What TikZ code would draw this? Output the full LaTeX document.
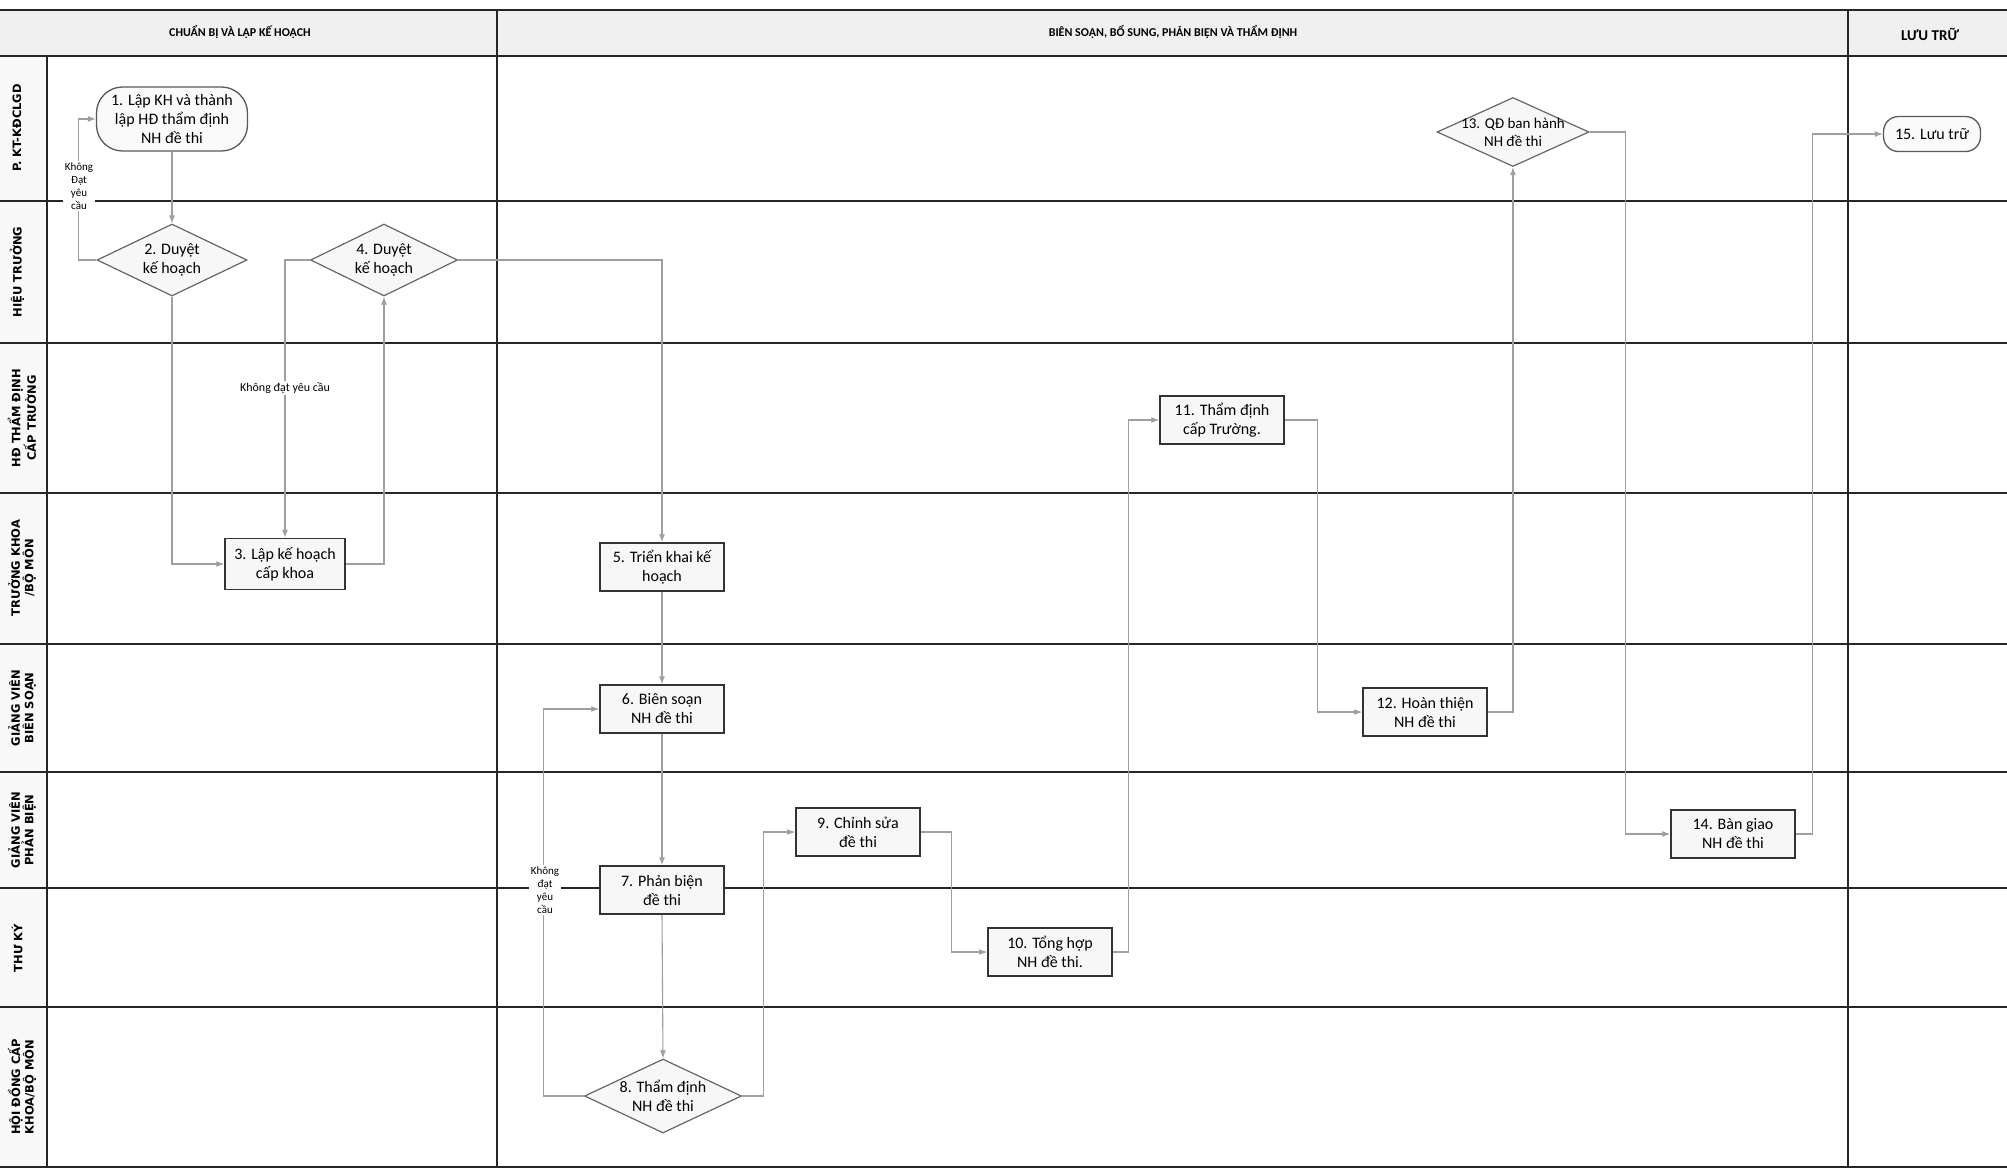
\documentclass[tikz,border=0pt]{standalone}
\usepackage{fontspec}
\setmainfont{Carlito}
\newfontfamily\lanefont{DejaVu Sans}
\usetikzlibrary{shapes.geometric,arrows.meta}
\begin{document}
\begin{tikzpicture}[x=1pt,y=-1pt,
  laneline/.style={draw=black!85, line width=2pt},
  vline/.style={draw=black!85, line width=1.6pt},
  box/.style={draw=black!80, line width=1.5pt, fill=gray!6, minimum width=124pt, minimum height=48pt, inner sep=0pt, align=center, font=\fontsize{16}{19}\selectfont},
  term/.style={draw=black!65, line width=1.3pt, fill=gray!4, inner sep=0pt, align=center, font=\fontsize{16}{19}\selectfont},
  dia/.style={diamond, draw=black!60, line width=1.2pt, fill=gray!6, inner sep=0pt},
  dtext/.style={align=center, inner sep=0pt, font=\fontsize{16}{19}\selectfont},
  conn/.style={draw=gray!75, line width=1.1pt, -{Latex[length=8pt,width=6pt]}},
  lbl/.style={fill=white, inner sep=1.5pt, align=center, font=\fontsize{11}{13}\selectfont},
  lanelbl/.style={rotate=90, align=center, font=\lanefont\bfseries\fontsize{11.5}{13.5}\selectfont},
  hdr/.style={font=\bfseries\fontsize{12}{14}\selectfont}
]
\useasboundingbox (0,0) rectangle (2007,1171);
% backgrounds
\fill[white] (0,0) rectangle (2007,1171);
\fill[gray!12] (0,10) rectangle (2007,56);
\fill[gray!5] (0,56) rectangle (47,1167);
% header texts
\node[hdr] (h1) at (240,32) {CHUẨN BỊ VÀ LẬP KẾ HOẠCH};
\node[hdr] (h2) at (1173,32) {BIÊN SOẠN, BỔ SUNG, PHẢN BIỆN VÀ THẨM ĐỊNH};
\node[hdr, font=\bfseries\fontsize{15}{17}\selectfont] (h3) at (1930,34) {LƯU TRỮ};
% grid lines
\draw[laneline] (0,10) -- (2007,10);
\draw[laneline] (0,56) -- (2007,56);
\foreach \yy in {201,343,493,644,772,888,1007,1167} {
  \draw[laneline] (0,\yy) -- (2007,\yy);
}
\draw[vline] (47,56) -- (47,1167);
\draw[vline] (497,10) -- (497,1167);
\draw[vline] (1848,10) -- (1848,1167);
% lane labels
\node[lanelbl] (l1) at (17,128) {P. KT-KĐCLGD};
\node[lanelbl] (l2) at (17,272) {HIỆU TRƯỞNG};
\node[lanelbl] (l3) at (22,418) {HĐ THẨM ĐỊNH\\CẤP TRƯỜNG};
\node[lanelbl] (l4) at (22,568) {TRƯỞNG KHOA\\/BỘ MÔN};
\node[lanelbl] (l5) at (22,708) {GIẢNG VIÊN\\BIÊN SOẠN};
\node[lanelbl] (l6) at (22,830) {GIẢNG VIÊN\\PHẢN BIỆN};
\node[lanelbl] (l7) at (17,948) {THƯ KÝ};
\node[lanelbl] (l8) at (22,1087) {HỘI ĐỒNG CẤP\\KHOA/BỘ MÔN};
% nodes
\node[term, minimum width=151pt, minimum height=64pt, rounded corners=26pt] (n1) at (172,119) {1. Lập KH và thành\\lập HĐ thẩm định\\NH đề thi};
\node[dia, minimum width=150pt, minimum height=72pt] (d2) at (172,260) {};
\node[dtext] (t2) at (d2) {2. Duyệt\\kế hoạch};
\node[dia, minimum width=147pt, minimum height=72pt] (d4) at (384,260) {};
\node[dtext] (t4) at (d4) {4. Duyệt\\kế hoạch};
\node[box, minimum width=120pt, minimum height=51pt] (n3) at (285,564) {3. Lập kế hoạch\\cấp khoa};
\node[box] (n5) at (662,567) {5. Triển khai kế\\hoạch};
\node[box] (n6) at (662,709) {6. Biên soạn\\NH đề thi};
\node[box] (n7) at (662,890) {7. Phản biện\\đề thi};
\node[dia, minimum width=157pt, minimum height=74pt] (d8) at (663,1096) {};
\node[dtext] (t8) at (d8) {8. Thẩm định\\NH đề thi};
\node[box] (n9) at (858,832) {9. Chỉnh sửa\\đề thi};
\node[box] (n10) at (1050,952) {10. Tổng hợp\\NH đề thi.};
\node[box] (n11) at (1222,420) {11. Thẩm định\\cấp Trường.};
\node[box] (n12) at (1425,712) {12. Hoàn thiện\\NH đề thi};
\node[dia, minimum width=152pt, minimum height=69pt] (d13) at (1513,132) {};
\node[dtext, font=\fontsize{15}{18}\selectfont] (t13) at (d13) {13. QĐ ban hành\\NH đề thi};
\node[box] (n14) at (1733,834) {14. Bàn giao\\NH đề thi};
\node[term, minimum width=97pt, minimum height=35pt, rounded corners=15pt] (n15) at (1932,134) {15. Lưu trữ};
% connectors
\draw[conn] (n1.south) -- (d2.north);
\draw[conn] (d2.west) -- ++(-18,0) |- (n1.west);
\node[lbl] (k1) at (79,186) {Không\\Đạt\\yêu\\cầu};
\draw[conn] (d2.south) |- (n3.west);
\draw[conn] (n3.east) -| (d4.south);
\draw[conn] (d4.west) -| (n3.north);
\node[lbl, font=\fontsize{12}{14}\selectfont] (k2) at (285,388) {Không đạt yêu cầu};
\draw[conn] (d4.east) -| (n5.north);
\draw[conn] (n5.south) -- (n6.north);
\draw[conn] (n6.south) -- (n7.north);
\draw[conn] (n7.south) -- (d8.north);
\draw[conn] (d8.west) -- ++(-40,0) |- (n6.west);
\node[lbl] (k3) at (545,890) {Không\\đạt\\yêu\\cầu};
\draw[conn] (d8.east) -- ++(21,0) |- (n9.west);
\draw[conn] (n9.east) -- ++(31,0) |- (n10.west);
\draw[conn] (n10.east) -- ++(16,0) |- (n11.west);
\draw[conn] (n11.east) -- ++(33,0) |- (n12.west);
\draw[conn] (n12.east) -| (d13.south);
\draw[conn] (d13.east) -- ++(36,0) |- (n14.west);
\draw[conn] (n14.east) -- ++(17,0) |- (n15.west);
\end{tikzpicture}
\end{document}
